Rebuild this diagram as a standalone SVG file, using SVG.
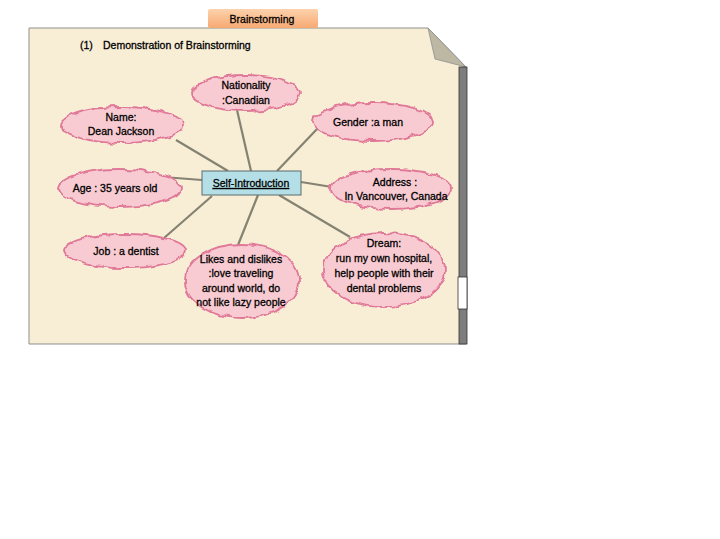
<svg xmlns="http://www.w3.org/2000/svg" width="720" height="539" viewBox="0 0 720 539">
<defs>
<linearGradient id="tab" x1="0" y1="0" x2="0" y2="1">
<stop offset="0" stop-color="#fcd2ad"/>
<stop offset="1" stop-color="#f7a972"/>
</linearGradient>
<filter id="spiky" x="-20%" y="-30%" width="140%" height="160%">
<feTurbulence type="fractalNoise" baseFrequency="0.12" numOctaves="1" seed="7" result="n"/>
<feDisplacementMap in="SourceGraphic" in2="n" scale="7" xChannelSelector="R" yChannelSelector="G"/>
</filter>
<style>
.t{font-family:"Liberation Sans",Arial,sans-serif;font-size:10.5px;fill:#000;stroke:#000;stroke-width:0.3;text-anchor:middle}
.bub{fill:#f8cbd2;stroke:#e07898;stroke-width:1.8;filter:url(#spiky)}
.c{stroke:#858271;stroke-width:2.2;fill:none}
</style>
</defs>
<rect width="720" height="539" fill="#fff"/>
<g id="page">
<polygon points="29,28 428,28 466,67 466,344 29,344" fill="#f8eed6" stroke="#8f8f8f" stroke-width="1"/>
<polygon points="428,28 435,59 466,67" fill="#bcb8a4" stroke="#8f8f8f" stroke-width="0.8"/>
<rect x="459" y="67" width="8" height="277" fill="#7d7d7d" stroke="#333" stroke-width="0.8"/>
<rect x="458" y="277" width="9" height="32" fill="#fff" stroke="#333" stroke-width="0.8"/>
</g>
<g id="tab-title">
<rect x="208" y="9" width="110" height="19" rx="2" fill="url(#tab)"/>
<text class="t" x="262" y="23">Brainstorming</text>
</g>
<g id="subtitle">
<text class="t" x="80" y="49" style="text-anchor:start">(1)</text>
<text class="t" x="103" y="49" style="text-anchor:start">Demonstration of Brainstorming</text>
</g>
<g id="connectors">
<line class="c" x1="237" y1="110" x2="251" y2="171"/>
<line class="c" x1="176" y1="140" x2="228" y2="171"/>
<line class="c" x1="318" y1="128" x2="277" y2="171"/>
<line class="c" x1="163" y1="177" x2="202" y2="180"/>
<line class="c" x1="164" y1="238" x2="212" y2="196"/>
<line class="c" x1="301" y1="182" x2="332" y2="187"/>
<line class="c" x1="279" y1="195" x2="350" y2="237"/>
<line class="c" x1="258" y1="195" x2="238" y2="245"/>
</g>
<g id="nationality">
<ellipse class="bub" cx="246" cy="93" rx="54" ry="18"/>
<text class="t" x="246" y="89">Nationality</text>
<text class="t" x="246" y="104">:Canadian</text>
</g>
<g id="name">
<ellipse class="bub" cx="122" cy="125" rx="61" ry="18"/>
<text class="t" x="121" y="121">Name:</text>
<text class="t" x="121" y="135">Dean Jackson</text>
</g>
<g id="gender">
<ellipse class="bub" cx="373" cy="122" rx="60" ry="19"/>
<text class="t" x="368" y="126">Gender :a man</text>
</g>
<g id="age">
<ellipse class="bub" cx="120" cy="188" rx="61" ry="19"/>
<text class="t" x="115" y="192">Age : 35 years old</text>
</g>
<g id="job">
<ellipse class="bub" cx="125" cy="251" rx="61" ry="17"/>
<text class="t" x="126" y="255">Job : a dentist</text>
</g>
<g id="address">
<ellipse class="bub" cx="391" cy="189" rx="60" ry="20"/>
<text class="t" x="395" y="186">Address :</text>
<text class="t" x="396" y="200">In Vancouver, Canada</text>
</g>
<g id="dream">
<ellipse class="bub" cx="384" cy="270" rx="61" ry="37"/>
<text class="t" x="384" y="247">Dream:</text>
<text class="t" x="384" y="262">run my own hospital,</text>
<text class="t" x="384" y="277">help people with their</text>
<text class="t" x="384" y="292">dental problems</text>
</g>
<g id="likes">
<ellipse class="bub" cx="242" cy="281" rx="57" ry="37"/>
<text class="t" x="241" y="263">Likes and dislikes</text>
<text class="t" x="241" y="277">:love traveling</text>
<text class="t" x="241" y="292">around world, do</text>
<text class="t" x="241" y="306">not like lazy people</text>
</g>
<g id="self-introduction">
<rect x="202" y="171" width="99" height="24" fill="#b5dfe6" stroke="#5a6a6e" stroke-width="1"/>
<text class="t" x="251" y="187" text-decoration="underline">Self-Introduction</text>
</g>
</svg>
